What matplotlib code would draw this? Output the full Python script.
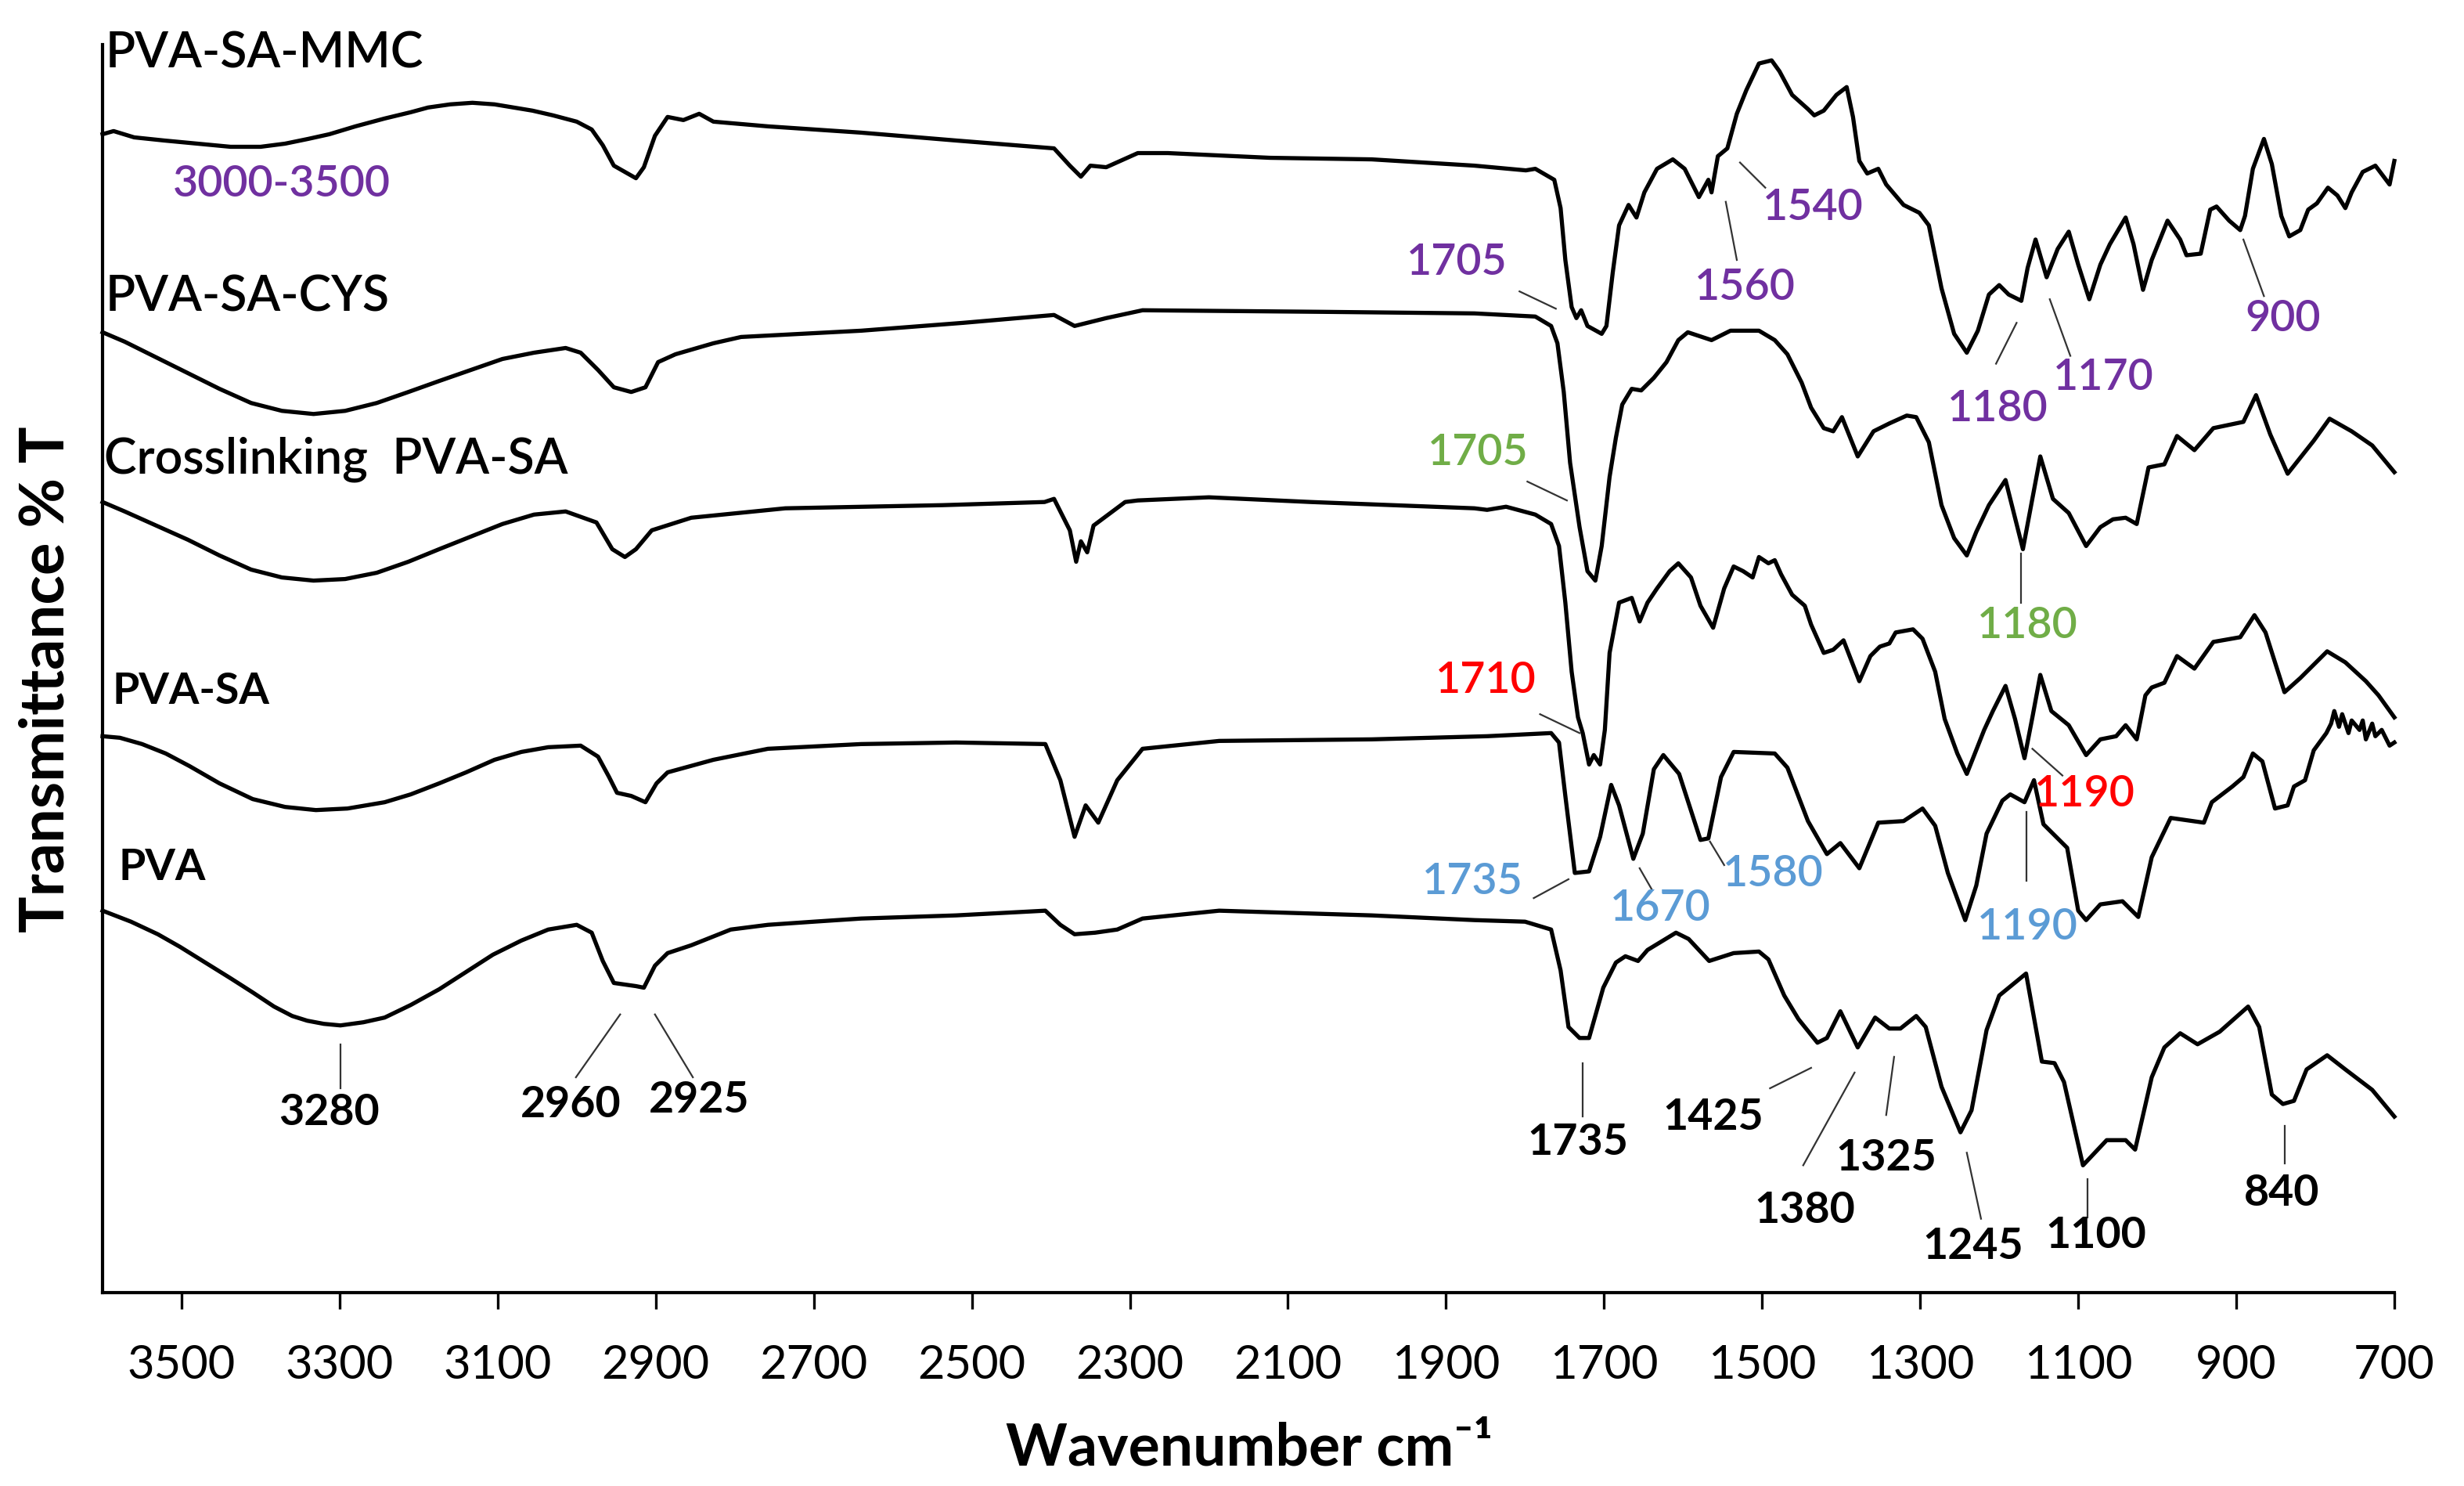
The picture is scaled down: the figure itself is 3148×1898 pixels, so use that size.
import matplotlib
matplotlib.use("Agg")
import matplotlib.pyplot as plt

plt.rcParams['font.family'] = ['Lato', 'DejaVu Sans']

# ---------------- data: (wavenumber cm-1, relative transmittance, stacked) ----------------
mmc = [(3600,737),(3586,739),(3560,735),(3522,733),(3480,731),(3438,729),(3400,729),(3369,731),
       (3340,734),(3313,737),(3280,742),(3243,747),(3210,751),(3188,754),(3160,756),(3132,757),
       (3104,756),(3080,754),(3056,752),(3030,749),(3000,745),(2981,740),(2967,730),(2953,717),
       (2939,713),(2925,709),(2915,716),(2901,736),(2885,748),(2865,746),(2845,750),(2827,745),
       (2758,742),(2640,738),(2520,733),(2396,728),(2376,717),(2362,710),(2350,717),(2330,716),(2290,725),
       (2252,725),(2123,722),(1994,721),(1864,717),(1799,714),(1787,715),(1763,708),(1755,690),
       (1749,657),(1741,627),(1735,620),(1729,625),(1721,615),(1703,610),(1697,615),(1689,649),
       (1681,679),(1669,692),(1659,684),(1649,700),(1633,715),(1613,721),(1598,715),(1580,697),
       (1568,708),(1564,700),(1556,723),(1544,728),(1532,750),(1520,765),(1504,782),(1488,784),
       (1478,777),(1462,762),(1442,753),(1434,749),(1422,752),(1406,762),(1393,767),(1385,748),
       (1377,720),(1367,712),(1353,715),(1343,705),(1321,692),(1301,687),(1289,679),(1273,639),
       (1257,610),(1241,598),(1227,612),(1213,635),(1200,641),(1188,635),(1172,631),(1164,652),
       (1154,670),(1140,646),(1126,664),(1112,675),(1100,654),(1086,632),(1072,654),(1060,667),
       (1040,684),(1030,667),(1018,638),(1007,657),(987,682),(971,670),(963,660),(945,661),
       (933,689),(925,691),(909,682),(895,676),(889,685),(879,715),(865,734),(855,718),
       (843,685),(833,672),(819,676),(809,689),(798,693),(784,703),(772,698),(762,690),
       (754,700),(740,713),(724,717),(706,705),(700,720)]

cys = [(3600,611),(3572,605),(3532,595),(3492,585),(3452,575),(3412,566),(3373,561),(3333,559),
       (3293,561),(3253,566),(3213,573),(3174,580),(3134,587),(3094,594),(3054,598),(3014,601),
       (2995,598),(2973,587),(2953,576),(2931,573),(2913,576),(2897,592),
       (2875,597),(2827,604),(2792,608),(2640,612),(2511,617),(2396,622),(2370,615),(2330,620),
       (2284,625),(2057,624),(1864,623),(1787,621),(1767,615),(1759,604),(1751,573),(1743,528),
       (1731,487),(1721,459),(1711,453),(1703,475),(1693,519),(1685,544),(1677,565),(1665,575),
       (1653,574),(1637,582),(1621,592),(1606,606),(1594,611),(1564,606),(1540,612),(1504,612),
       (1484,606),(1468,597),(1450,579),(1438,563),(1422,550),(1410,548),(1399,557),(1379,532),
       (1359,548),(1339,553),(1317,558),(1305,557),(1289,541),(1273,501),(1257,480),(1241,469),
       (1229,484),(1213,501),(1192,517),(1170,473),(1148,532),(1132,505),(1112,496),(1090,475),
       (1072,487),(1056,492),(1040,493),(1026,489),(1011,525),(991,527),(975,545),(953,536),
       (929,550),(891,554),(875,571),(857,546),(835,521),(802,542),(782,556),(754,548),
       (728,539),(700,522)]

crosslinked = [(3600,503),(3572,497),(3532,488),(3492,479),(3452,469),(3412,460),(3373,455),
       (3333,453),(3293,454),(3253,458),(3213,465),(3174,473),(3134,481),(3094,489),(3054,495),
       (3014,497),(2975,490),(2955,473),(2939,468),
       (2925,473),(2905,485),(2855,493),(2736,499),(2537,501),(2408,503),(2396,505),(2376,485),
       (2368,465),(2362,478),(2354,471),(2346,488),(2306,503),(2290,504),(2200,506),(2071,503),
       (1864,499),(1848,498),(1824,500),(1787,495),(1767,489),(1757,475),(1749,439),(1741,395),
       (1733,366),(1727,356),(1719,336),(1713,342),(1705,336),(1699,358),(1693,407),(1681,439),
       (1665,442),(1655,427),(1645,439),(1633,448),(1617,459),(1606,464),(1590,455),(1578,437),
       (1562,423),(1548,448),(1536,462),(1524,459),(1512,455),(1504,468),(1492,464),(1484,466),
       (1476,457),(1462,444),(1446,437),(1438,425),(1422,407),(1410,409),(1397,415),(1377,389),
       (1363,405),(1351,411),(1339,413),(1331,420),(1309,422),(1297,416),(1281,395),(1269,365),
       (1253,343),(1241,330),(1219,358),(1208,370),(1192,386),(1180,365),(1168,340),(1158,366),
       (1148,393),(1134,370),(1112,361),(1090,342),(1072,352),(1052,354),(1040,361),(1026,352),
       (1015,380),(1007,385),(991,388),(975,405),(953,397),(929,414),(895,417),(877,431),
       (863,420),(839,382),(819,391),(785,408),(762,401),(736,389),(720,380),(700,366)]

pva_sa = [(3600,354),(3578,353),(3550,349),(3520,343),(3490,335),(3452,324),(3410,314),(3369,309),
       (3330,307),(3290,308),(3243,312),(3210,317),(3174,324),(3140,331),(3104,339),(3070,344),
       (3036,347),(2995,348),(2973,341),(2959,328),(2949,318),
       (2931,316),(2913,312),(2899,324),(2885,331),(2827,339),(2758,346),(2640,349),(2520,350),
       (2407,349),(2388,326),(2370,290),(2356,310),(2340,299),(2316,326),(2284,346),(2187,351),
       (1994,352),(1848,354),(1767,356),(1757,350),(1749,316),(1737,267),(1719,268),(1705,290),
       (1691,323),(1681,310),(1663,276),(1651,292),(1637,333),(1625,342),(1605,330),(1578,288),
       (1568,289),(1552,328),(1536,344),(1484,343),(1468,334),(1442,300),(1418,279),(1401,286),
       (1377,270),(1353,299),(1321,300),(1297,308),(1281,297),(1265,267),(1243,237),(1229,259),
       (1216,292),(1196,313),(1186,317),(1168,312),(1156,326),(1144,298),(1114,283),(1100,243),
       (1090,237),(1072,247),(1044,249),(1024,239),(1007,277),(983,302),(941,299),(931,312),
       (905,322),(891,328),(879,343),(867,338),(851,308),(835,310),(827,322),(813,326),
       (802,345),(786,356),(780,362),(776,370),(770,360),(766,368),(758,356),(754,364),
       (744,358),(740,364),(736,352),(728,362),(724,354),(716,358),(706,348),(700,350)]

pva = [(3600,243),(3564,236),(3530,228),(3502,220),(3470,210),(3438,200),(3410,191),(3383,182),
       (3360,176),(3341,173),(3320,171),(3299,170),(3270,172),(3243,175),(3210,183),(3174,193),
       (3140,204),(3106,215),(3070,224),(3036,231),(3000,234),(2981,229),(2967,211),(2953,197),(2939,196),
       (2925,195),(2915,194),(2901,208),(2885,216),(2855,221),(2805,231),(2758,234),(2700,236),(2640,238),
       (2520,240),(2407,243),(2388,234),(2370,228),(2344,229),(2316,231),(2284,238),(2187,243),
       (1994,240),(1864,237),(1800,236),(1767,231),(1755,205),(1745,169),(1731,162),(1719,162),
       (1701,194),(1685,210),(1673,214),(1657,211),(1645,218),(1609,229),(1593,225),(1567,211),
       (1536,216),(1504,217),(1492,212),(1472,189),(1454,174),(1430,159),(1418,162),(1401,179),
       (1379,156),(1357,175),(1339,168),(1325,168),(1305,176),(1293,169),(1273,131),(1249,102),
       (1235,116),(1216,167),(1200,189),(1166,203),(1146,147),(1130,146),(1118,134),(1094,81),
       (1064,97),(1040,97),(1028,91),(1007,137),(991,156),(971,165),(949,158),(921,166),
       (885,182),(871,169),(855,126),(841,120),(827,122),(811,142),(785,151),(762,142),
       (728,129),(700,112)]

sample_names = ["PVA-SA-MMC", "PVA-SA-CYS", "Crosslinking  PVA-SA", "PVA-SA", "PVA"]
sample_series = [mmc, cys, crosslinked, pva_sa, pva]
# label anchor (wavenumber, level), size, weight
sample_label_pos = [(3596, 780), (3596, 625), (3598, 522), (3588, 375), (3580, 263)]
sample_label_size = [22.5, 22.5, 22.5, 20, 20]
sample_label_weight = ['semibold', 'semibold', 'semibold', 'bold', 'bold']

xticks = list(range(3500, 600, -200))

PURPLE, GREEN, RED, BLUE, BLACK = '#7030A0', '#70AD47', '#FF0000', '#5B9BD5', '#000000'
# (text, colour, weight, text position, leader line start, leader line end)
peak_notes = [
    ("3000-3500", PURPLE, 'semibold', (3373, 706), None, None),
    ("1705", PURPLE, 'semibold', (1886, 656), (1807, 637), (1761, 626)),
    ("1560", PURPLE, 'semibold', (1522, 640), (1546, 694), (1532, 657)),
    ("1540", PURPLE, 'semibold', (1436, 691), (1528, 719), (1496, 703)),
    ("1180", PURPLE, 'semibold', (1202, 563), (1178, 617), (1204, 591)),
    ("1170", PURPLE, 'semibold', (1068, 583), (1136, 632), (1110, 596)),
    ("900", PURPLE, 'semibold', (841, 620), (891, 670), (865, 634)),
    ("1705", GREEN, 'semibold', (1860, 535), (1797, 516), (1747, 504)),
    ("1180", GREEN, 'semibold', (1164, 425), (1172, 470), (1172, 439)),
    ("1710", RED, 'semibold', (1850, 390), (1781, 368), (1731, 356)),
    ("1190", RED, 'semibold', (1092, 318), (1158, 346), (1120, 329)),
    ("1735", BLUE, 'semibold', (1866, 262), (1789, 251), (1745, 263)),
    ("1670", BLUE, 'semibold', (1629, 245), (1655, 270), (1639, 256)),
    ("1580", BLUE, 'semibold', (1486, 267), (1566, 287), (1548, 272)),
    ("1190", BLUE, 'semibold', (1164, 233), (1166, 306), (1166, 262)),
    ("3280", BLACK, 'bold', (3313, 115), (3299, 158), (3299, 130)),
    ("2960", BLACK, 'bold', (3008, 120), (2945, 177), (3001, 137)),
    ("2925", BLACK, 'bold', (2845, 123), (2901, 177), (2853, 137)),
    ("1735", BLACK, 'bold', (1733, 96), (1727, 146), (1727, 112)),
    ("1425", BLACK, 'bold', (1562, 112), (1490, 130), (1438, 143)),
    ("1380", BLACK, 'bold', (1446, 53), (1448, 81), (1383, 140)),
    ("1325", BLACK, 'bold', (1343, 86), (1343, 113), (1333, 150)),
    ("1245", BLACK, 'bold', (1233, 30), (1241, 89), (1223, 47)),
    ("1100", BLACK, 'bold', (1078, 37), (1088, 72), (1088, 48)),
    ("840", BLACK, 'bold', (843, 64), (839, 106), (839, 82)),
]

# ---------------- figure ----------------
W, H, DPI = 3148, 1899, 200
fig = plt.figure(figsize=(W / DPI, H / DPI), dpi=DPI)
ax = fig.add_axes([131 / W, 1 - 1652 / H, (3059 - 131) / W, (1652 - 58) / H])
ax.set_xlim(3600, 700)
ax.set_ylim(0, 794)

for series in sample_series:
    xs = [p[0] for p in series]
    ys = [p[1] for p in series]
    ax.plot(xs, ys, color='black', lw=1.9, solid_joinstyle='round', clip_on=False)

for name, (x, y), fs, fw in zip(sample_names, sample_label_pos, sample_label_size, sample_label_weight):
    ax.text(x, y, name, ha='left', va='baseline', fontsize=fs, fontweight=fw, color='black', clip_on=False)

for txt, col, fw, tpos, l0, l1 in peak_notes:
    if l0 is not None:
        ax.plot([l0[0], l1[0]], [l0[1], l1[1]], color='#333333', lw=0.8, clip_on=False)
    ax.text(tpos[0], tpos[1], txt, ha='center', va='center', fontsize=20, fontweight=fw,
            color=col, clip_on=False)

for s in ('top', 'right'):
    ax.spines[s].set_visible(False)
ax.spines['left'].set_linewidth(1.5)
ax.spines['bottom'].set_linewidth(1.5)
ax.set_yticks([])
ax.set_xticks(xticks)
ax.set_xticklabels([str(t) for t in xticks])
ax.tick_params(axis='x', direction='out', length=7.5, width=1.2, pad=16, labelsize=21.5)

fig.text(60 / W, 1 - 868 / H, "Transmittance % T", rotation=90, ha='center', va='center',
         fontsize=28, fontweight='bold')
fig.text(1596 / W, 1 - 1850 / H, "Wavenumber cm\u207b\u00b9", ha='center', va='center',
         fontsize=27, fontweight='bold', family=['Lato', 'DejaVu Sans'])

fig.savefig("out.png", dpi=DPI)
